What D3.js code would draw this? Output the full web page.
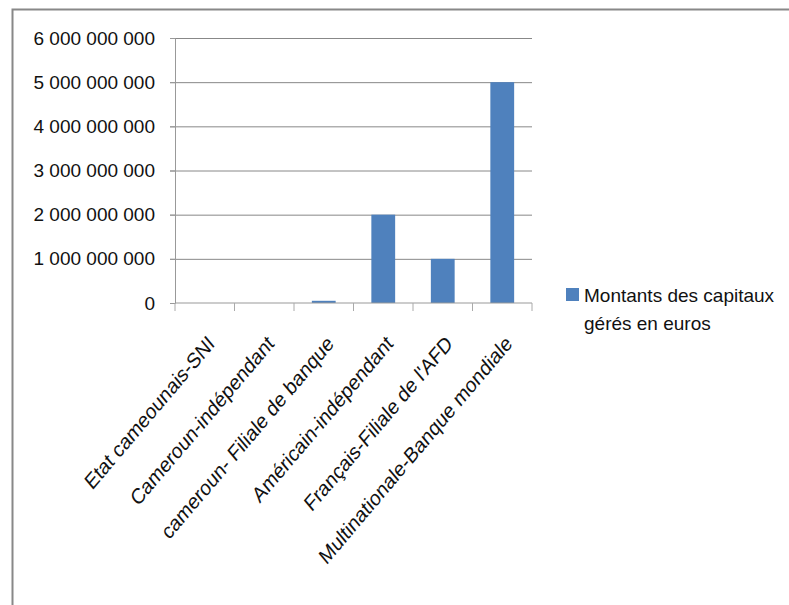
<!DOCTYPE html>
<html lang="fr">
  <head>
    <meta charset="UTF-8" />
    <title>Montants des capitaux gérés en euros</title>
    <script src="https://d3js.org/d3.v7.min.js"></script>
    <style>
      body {
        margin: 0;
        background: #fff;
        font-family: "Liberation Sans", Arial, sans-serif;
      }
      .axis text {
        font-size: 19px;
        fill: #111;
      }
      .gridlines line {
        stroke: #888;
      }
      .gridlines .domain {
        stroke: none;
      }
    </style>
  </head>
  <body>
    <svg width="789" height="605" id="chart"></svg>

    <script>
      // data
      const categories = [
        "Etat cameounais-SNI",
        "Cameroun-indépendant",
        "cameroun- Filiale de banque",
        "Américain-indépendant",
        "Français-Filiale de l'AFD",
        "Multinationale-Banque mondiale",
      ];
      const montants = [0, 0, 50000000, 2000000000, 1000000000, 5000000000];
      const yTicks = [0, 1e9, 2e9, 3e9, 4e9, 5e9, 6e9];
      const seriesName = ["Montants des capitaux", "gérés en euros"];

      const data = categories.map((c, i) => ({ cat: c, value: montants[i] }));

      const svg = d3.select("#chart");
      const width = +svg.attr("width");

      const margins = { top: 38, right: 257, bottom: 302, left: 175 };
      const chartWidth = width - margins.left - margins.right;
      const chartHeight = 605 - margins.top - margins.bottom;

      // outer frame (only top and left edges show)
      svg
        .append("path")
        .attr("d", `M12.5,605 V9.5 H789`)
        .attr("fill", "none")
        .attr("stroke", "#888")
        .attr("stroke-width", 2);

      const chartArea = svg
        .append("g")
        .attr("transform", `translate(${margins.left},${margins.top})`);

      const xScale = d3
        .scaleBand()
        .domain(categories)
        .range([0, chartWidth])
        .padding(0);

      const yScale = d3
        .scaleLinear()
        .domain([0, 6e9])
        .range([chartHeight, 0]);

      // horizontal gridlines
      chartArea
        .append("g")
        .attr("class", "gridlines")
        .attr("transform", `translate(${chartWidth},0)`)
        .call(
          d3
            .axisLeft(yScale)
            .tickValues(yTicks.slice(1))
            .tickSize(chartWidth + 5)
            .tickFormat("")
        );

      // y axis
      const fmt = (d) => d3.format(",")(d).replace(/,/g, " ");
      const yAxis = chartArea
        .append("g")
        .attr("class", "axis")
        .call(
          d3.axisLeft(yScale).tickValues(yTicks).tickSize(5).tickPadding(15).tickFormat(fmt)
        );
      yAxis.selectAll(".domain, line").attr("stroke", "#999");

      // bars (gap width 150%)
      const barW = xScale.bandwidth() * 0.4;
      chartArea
        .selectAll(".bar")
        .data(data)
        .join("rect")
        .attr("class", "bar")
        .attr("x", (d) => xScale(d.cat) + (xScale.bandwidth() - barW) / 2)
        .attr("y", (d) => yScale(d.value))
        .attr("width", barW)
        .attr("height", (d) => chartHeight - yScale(d.value))
        .attr("fill", "#4f81bd");

      // x axis baseline and boundary ticks
      const xAxis = chartArea
        .append("g")
        .attr("transform", `translate(0,${chartHeight})`);
      xAxis
        .append("line")
        .attr("x1", 0)
        .attr("x2", chartWidth)
        .attr("stroke", "#999");
      const bounds = categories.map((c) => xScale(c)).concat([chartWidth]);
      xAxis
        .selectAll(".xtick")
        .data(bounds)
        .join("line")
        .attr("class", "xtick")
        .attr("x1", (d) => d)
        .attr("x2", (d) => d)
        .attr("y1", 0)
        .attr("y2", 8)
        .attr("stroke", "#aaa");

      // rotated category labels (picture is a bit stretched vertically)
      xAxis
        .selectAll(".xlabel")
        .data(categories)
        .join("text")
        .attr("class", "xlabel")
        .attr("text-anchor", "end")
        .attr("font-size", 18.5)
        .attr("fill", "#111")
        .attr(
          "transform",
          (d) =>
            `translate(${xScale(d) + xScale.bandwidth() / 2 + 11},${42}) scale(1,1.18) rotate(-45)`
        )
        .text((d) => d);

      // legend
      const legend = svg.append("g").attr("transform", "translate(566,288)");
      legend
        .append("rect")
        .attr("width", 13)
        .attr("height", 13)
        .attr("fill", "#4f81bd");
      legend
        .selectAll("text")
        .data(seriesName)
        .join("text")
        .attr("x", 18)
        .attr("y", (d, i) => 14 + i * 28)
        .attr("font-size", 19)
        .attr("fill", "#111")
        .text((d) => d);
    </script>
  </body>
</html>
